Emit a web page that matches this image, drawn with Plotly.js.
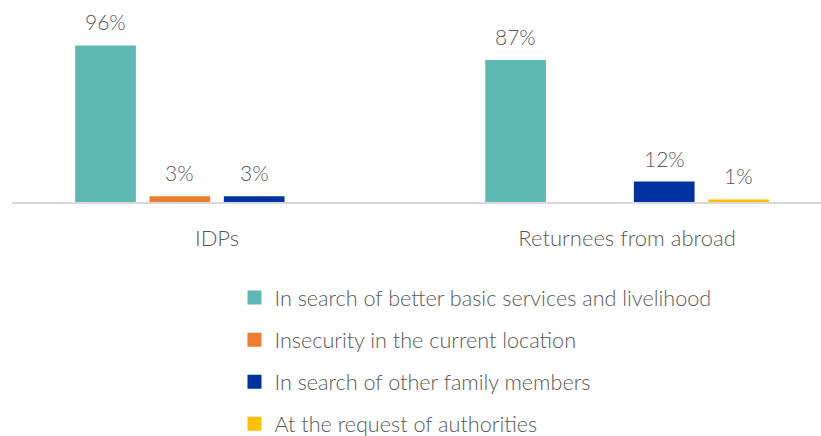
<!DOCTYPE html>
<html>
<head>
<meta charset="utf-8">
<script src="https://cdn.plot.ly/plotly-3.0.1.min.js"></script>
<style>html,body{margin:0;padding:0;background:#fff;}#chart{width:821px;height:436px;}</style>
</head>
<body>
<div id="chart"></div>
<script>
const categories = ["IDPs", "Returnees from abroad"];
const seriesNames = [
  "In search of better basic services and livelihood",
  "Insecurity in the current location",
  "In search of other family members",
  "At the request of authorities"
];
const betterServices = [96, 87];
const insecurity = [3, null];
const familyMembers = [3, 12];
const authorities = [null, 1];
const seriesValues = [betterServices, insecurity, familyMembers, authorities];
const colors = ["#5eb8b3", "#ed7d31", "#0033a0", "#ffc000"];

const FONT = "Lato, 'Open Sans', sans-serif";
const TXT = "#595959";
const BARGAP = 0.275;
const nSeries = seriesValues.length;

const traces = seriesValues.map((vals, i) => ({
  type: "bar",
  name: seriesNames[i],
  x: categories,
  y: vals,
  marker: {color: colors[i], line: {color: colors[i], width: 2}},
  legendgroup: "g" + i,
  hoverinfo: "none"
}));

// value labels placed over each grouped bar (offset derived from bar group layout)
const annotations = [];
seriesValues.forEach((vals, i) => {
  vals.forEach((v, j) => {
    if (v === null) return;
    annotations.push({
      x: j + (i - (nSeries - 1) / 2) * (1 - BARGAP) / nSeries,
      y: v,
      xref: "x", yref: "y",
      text: v + "%",
      showarrow: false,
      yanchor: "bottom",
      yshift: 10,
      font: {family: FONT, size: 21, color: TXT, weight: 300}
    });
  });
});

const layout = {
  width: 821,
  height: 436,
  margin: {l: 12, r: 0, t: 40, b: 234, autoexpand: false},
  paper_bgcolor: "#fff",
  plot_bgcolor: "#fff",
  barmode: "group",
  bargap: BARGAP,
  bargroupgap: 0.21,
  font: {family: FONT, color: TXT, size: 18, weight: 300},
  annotations: annotations,
  xaxis: {
    type: "category",
    range: [-0.5, 1.473],
    showline: true,
    linecolor: "#d9d9d9",
    linewidth: 2,
    ticks: "",
    tickfont: {family: FONT, size: 22, color: TXT, weight: 300},
    ticklabelstandoff: 16,
    showgrid: false,
    zeroline: false,
    automargin: false
  },
  yaxis: {
    range: [0, 100],
    visible: false,
    showgrid: false,
    zeroline: false,
    automargin: false
  },
  showlegend: true,
  legend: {
    orientation: "v",
    x: 0.275,
    xanchor: "left",
    y: -0.463,
    yanchor: "top",
    font: {family: FONT, size: 21.6, color: TXT, weight: 300},
    tracegroupgap: 11,
    itemclick: false,
    itemdoubleclick: false
  }
};

Plotly.newPlot("chart", traces, layout, {displayModeBar: false, staticPlot: true});
</script>
</body>
</html>
